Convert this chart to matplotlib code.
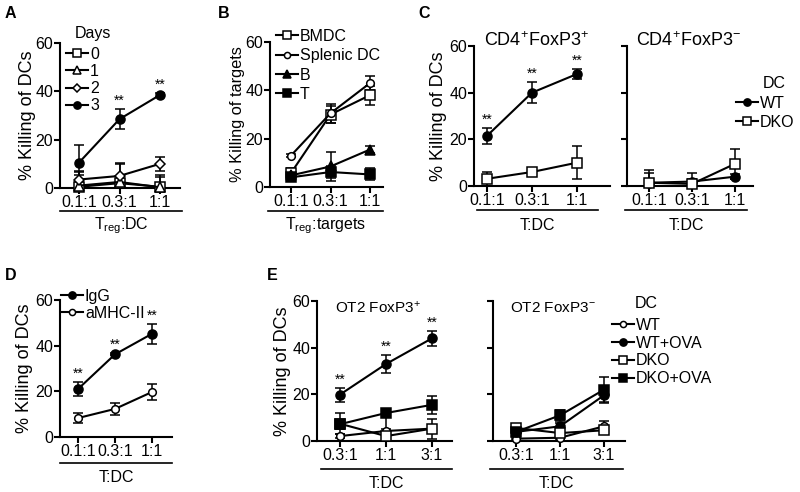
import matplotlib.pyplot as plt
from matplotlib.lines import Line2D

plt.rcParams['font.family'] = ['Liberation Sans', 'DejaVu Sans']
plt.rcParams['mathtext.fontset'] = 'custom'
plt.rcParams['mathtext.rm'] = 'Liberation Sans'
plt.rcParams['mathtext.default'] = 'rm'

W, H = 800, 492

# ---- data ----
ratios_top = ['0.1:1', '0.3:1', '1:1']
ratios_e = ['0.3:1', '1:1', '3:1']

# A: days of culture
day_labels = ['0', '1', '2', '3']
a_day0 = [0.5, 2.0, 0.5]
a_day0_err = [5, 3, 4]
a_day1 = [1.0, 2.5, 0.3]
a_day1_err = [6, 8, 5]
a_day2 = [3.5, 5.0, 10.0]
a_day2_err = [3, 5, 3]
a_day3 = [10.5, 28.5, 38.5]
a_day3_err = [7.5, 4, 1]

# B: targets
b_labels = ['BMDC', 'Splenic DC', 'B', 'T']
b_bmdc = [5.8, 30.0, 38.0]
b_bmdc_err = [2, 3.5, 4]
b_splenic = [13.0, 30.5, 43.0]
b_splenic_err = [0.5, 4, 3]
b_b = [4.8, 8.5, 15.5]
b_b_err = [1.5, 6, 1.5]
b_t = [4.0, 6.2, 5.2]
b_t_err = [1.5, 2.5, 2.5]

# C: CD4+FoxP3+ / CD4+FoxP3- killing of WT / DKO DCs
c_labels = ['WT', 'DKO']
c_pos_wt = [21.5, 40.0, 48.0]
c_pos_wt_err = [3.5, 4.5, 2.3]
c_pos_dko = [3.1, 6.0, 10.0]
c_pos_dko_err = [3, 0.5, 7]
c_neg_wt = [1.4, 1.9, 4.0]
c_neg_wt_err = [4, 1, 1]
c_neg_dko = [1.4, 0.9, 9.5]
c_neg_dko_err = [5.5, 4.5, 6.3]

# D: antibody blocking
d_labels = ['IgG', 'aMHC-II']
d_igg = [21.0, 36.2, 45.2]
d_igg_err = [3, 0.5, 4.5]
d_amhc = [8.3, 12.3, 19.7]
d_amhc_err = [2.3, 2.5, 3.5]

# E: OT2 FoxP3+ / FoxP3-
e_labels = ['WT', 'WT+OVA', 'DKO', 'DKO+OVA']
e_pos_wt = [2.1, 4.3, 5.3]
e_pos_wt_err = [1, 1, 1]
e_pos_wtova = [19.9, 33.0, 44.0]
e_pos_wtova_err = [3, 4, 3.3]
e_pos_dko = [7.4, 2.1, 5.3]
e_pos_dko_err = [4.5, 8, 4.3]
e_pos_dkoova = [7.2, 12.0, 15.5]
e_pos_dkoova_err = [2, 1, 4]
e_neg_wt = [1.0, 1.4, 6.3]
e_neg_wt_err = [0.5, 0.5, 2.2]
e_neg_wtova = [3.9, 6.3, 19.6]
e_neg_wtova_err = [1, 1.5, 3]
e_neg_dko = [5.6, 3.4, 4.6]
e_neg_dko_err = [1, 1, 1]
e_neg_dkoova = [3.9, 11.0, 22.0]
e_neg_dkoova_err = [1, 2.5, 5.5]

fig = plt.figure(figsize=(W / 100, H / 100), dpi=100)

FS = 11.5


def make_axes(x0, x1, ytop, ybot, t0, sp, labels, show_y=True):
    ax = fig.add_axes([x0 / W, 1 - ybot / H, (x1 - x0) / W, (ybot - ytop) / H])
    ax.set_ylim(0, 60)
    ax.set_xlim((x0 - t0) / sp, (x1 - t0) / sp)
    ax.set_yticks([0, 20, 40, 60])
    ax.set_xticks(range(len(labels)))
    ax.set_xticklabels(labels)
    for s in ['top', 'right']:
        ax.spines[s].set_visible(False)
    for s in ['left', 'bottom']:
        ax.spines[s].set_linewidth(1.5)
    ax.tick_params(width=1.5, length=4, labelsize=FS, pad=1)
    if not show_y:
        ax.set_yticklabels([])
    return ax


def series(ax, y, err, marker, filled, label=None, ms=6.5):
    x = range(len(y))
    ax.errorbar(x, y, yerr=err, fmt='none', ecolor='black', elinewidth=1.1,
                capsize=3.5, capthick=1.1, zorder=2)
    ax.plot(x, y, color='black', lw=1.5, marker=marker, ms=ms,
            mfc='black' if filled else 'white', mec='black', mew=1.1,
            label=label, clip_on=False, zorder=3)


def stars(ax, idx, y, err):
    for i in idx:
        ax.text(i, y[i] + err[i] + 0.5, '**', ha='center', va='bottom', fontsize=10)


def underline(x0, x1, y, text, ytext):
    fig.add_artist(Line2D([x0 / W, x1 / W], [1 - y / H, 1 - y / H], color='black', lw=1.2))
    fig.text((x0 + x1) / 2 / W, 1 - ytext / H, text, ha='center', va='center', fontsize=FS)


def ylab(ax, text, xr, x0, w, fs=13):
    ax.set_ylabel(text, fontsize=fs)
    ax.yaxis.set_label_coords((xr - x0) / w, 0.5)


def legend(ax, x, y, fs=FS, spacing=0.05):
    ax.legend(loc='upper left', bbox_to_anchor=(x / W, 1 - y / H), bbox_transform=fig.transFigure,
              frameon=False, fontsize=fs, handlelength=1.35, handletextpad=0.15,
              labelspacing=spacing, borderpad=0, borderaxespad=0, numpoints=1,
              markerscale=0.8)


def letter(x, y, s):
    fig.text(x / W, 1 - y / H, s, fontsize=11.5, fontweight='bold', ha='left', va='center')


# ---- A ----
axA = make_axes(60, 180, 43, 188, 79, 40.5, ratios_top)
series(axA, a_day0, a_day0_err, 's', False, day_labels[0])
series(axA, a_day1, a_day1_err, '^', False, day_labels[1])
series(axA, a_day2, a_day2_err, 'D', False, day_labels[2], ms=5.5)
series(axA, a_day3, a_day3_err, 'o', True, day_labels[3])
stars(axA, [1, 2], a_day3, a_day3_err)
ylab(axA, '% Killing of DCs', 36, 60, 120)
legend(axA, 66, 47, spacing=0.13)
fig.text(75 / W, 1 - 33 / H, 'Days', fontsize=FS, va='center')
underline(60, 182, 211, 'T$_{reg}$:DC', 226)
letter(5, 14, 'A')

# ---- B ----
axB = make_axes(270, 383, 42, 187, 291, 39.5, ratios_top)
series(axB, b_bmdc, b_bmdc_err, 's', False, b_labels[0])
series(axB, b_splenic, b_splenic_err, 'o', False, b_labels[1], ms=5.5)
series(axB, b_b, b_b_err, '^', True, b_labels[2])
series(axB, b_t, b_t_err, 's', True, b_labels[3])
ylab(axB, '% Killing of targets', 245, 270, 113, fs=11.8)
legend(axB, 276, 29, spacing=0.27)
underline(268, 383, 211, 'T$_{reg}$:targets', 226)
letter(218, 14, 'B')

# ---- C ----
axC1 = make_axes(474, 610, 46, 186, 487, 45, ratios_top)
series(axC1, c_pos_wt, c_pos_wt_err, 'o', True, c_labels[0])
series(axC1, c_pos_dko, c_pos_dko_err, 's', False, c_labels[1])
stars(axC1, [0, 1, 2], c_pos_wt, c_pos_wt_err)
ylab(axC1, '% Killing of DCs', 447, 474, 136)
axC1.text(0.07, 1.04, 'CD4$^{+}$FoxP3$^{+}$', transform=axC1.transAxes, fontsize=13, va='center')
underline(477, 598, 210, 'T:DC', 226)
letter(418, 14, 'C')

axC2 = make_axes(627, 753, 46, 186, 649, 43, ratios_top, show_y=False)
series(axC2, c_neg_wt, c_neg_wt_err, 'o', True, c_labels[0])
series(axC2, c_neg_dko, c_neg_dko_err, 's', False, c_labels[1])
axC2.text(0.07, 1.04, 'CD4$^{+}$FoxP3$^{-}$', transform=axC2.transAxes, fontsize=13, va='center')
legend(axC2, 736, 96, spacing=0.25)
fig.text(763 / W, 1 - 83 / H, 'DC', fontsize=FS, va='center')
underline(625, 747, 210, 'T:DC', 226)

# ---- D ----
axD = make_axes(60, 172, 300, 437, 78, 37, ratios_top)
series(axD, d_igg, d_igg_err, 'o', True, d_labels[0])
series(axD, d_amhc, d_amhc_err, 'o', False, d_labels[1], ms=5.5)
stars(axD, [0, 1, 2], d_igg, d_igg_err)
ylab(axD, '% Killing of DCs', 33, 60, 112)
legend(axD, 61, 289, spacing=0.12)
underline(60, 172, 463, 'T:DC', 478)
letter(5, 276, 'D')

# ---- E ----
axE1 = make_axes(317, 452, 301, 441, 340, 46, ratios_e)
series(axE1, e_pos_wt, e_pos_wt_err, 'o', False, e_labels[0], ms=5.5)
series(axE1, e_pos_wtova, e_pos_wtova_err, 'o', True, e_labels[1])
series(axE1, e_pos_dko, e_pos_dko_err, 's', False, e_labels[2])
series(axE1, e_pos_dkoova, e_pos_dkoova_err, 's', True, e_labels[3])
stars(axE1, [0, 1, 2], e_pos_wtova, e_pos_wtova_err)
ylab(axE1, '% Killing of DCs', 291, 317, 135)
axE1.text(0.13, 0.95, 'OT2 FoxP3$^{+}$', transform=axE1.transAxes, fontsize=11, va='center')
underline(321, 452, 469, 'T:DC', 484)
letter(267, 275, 'E')

axE2 = make_axes(493, 625, 301, 441, 516, 44, ratios_e, show_y=False)
series(axE2, e_neg_wt, e_neg_wt_err, 'o', False, e_labels[0], ms=5.5)
series(axE2, e_neg_wtova, e_neg_wtova_err, 'o', True, e_labels[1])
series(axE2, e_neg_dko, e_neg_dko_err, 's', False, e_labels[2])
series(axE2, e_neg_dkoova, e_neg_dkoova_err, 's', True, e_labels[3])
axE2.text(0.13, 0.95, 'OT2 FoxP3$^{-}$', transform=axE2.transAxes, fontsize=11, va='center')
legend(axE2, 612, 318, spacing=0.17)
fig.text(635 / W, 1 - 303 / H, 'DC', fontsize=FS, va='center')
underline(490, 623, 469, 'T:DC', 484)

fig.savefig('out.png', dpi=100)
